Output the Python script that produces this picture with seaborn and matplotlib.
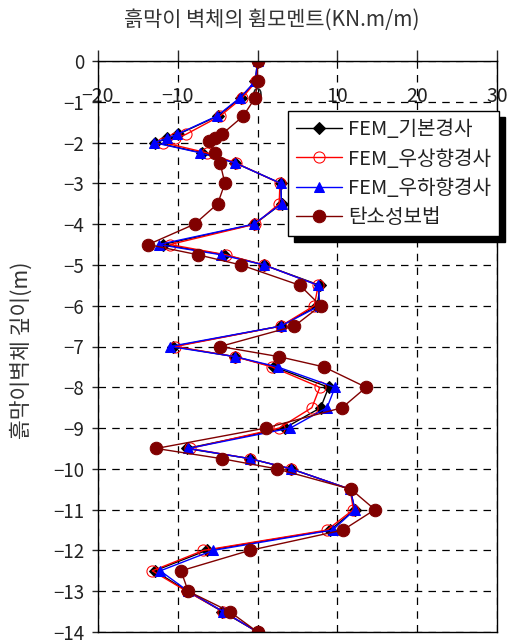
import matplotlib
matplotlib.use("Agg")
import matplotlib.pyplot as plt
import seaborn as sns
import pandas as pd

depth = [0, -0.5, -0.9, -1.35, -1.8, -1.9, -2.0, -2.25, -2.5, -3.0, -3.5, -4.0,
         -4.5, -4.75, -5.0, -5.5, -6.0, -6.5, -7.0, -7.25, -7.5, -8.0, -8.5, -9.0,
         -9.5, -9.75, -10.0, -10.5, -11.0, -11.5, -12.0, -12.5, -13.0, -13.5, -14.0]

fem_base = [0, -0.3, -2.1, -5.0, -10.0, -11.3, -12.8, -7.0, -2.8, 2.9, 3.0, -0.4,
            -11.9, -4.2, 0.8, 7.8, 7.5, 2.9, -10.6, -2.8, 2.1, 8.9, 7.9, 3.4,
            -8.9, -0.95, 4.2, 11.6, 12.2, 9.1, -6.4, -12.9, -8.8, -4.4, 0]

fem_up = [0, -0.2, -1.9, -4.7, -9.0, -10.3, -11.8, -6.4, -2.7, 2.8, 2.7, -0.3,
          -11.0, -4.0, 0.8, 7.6, 7.1, 2.9, -10.3, -2.8, 1.8, 7.8, 6.8, 2.7,
          -8.5, -0.95, 4.2, 11.6, 12.0, 8.7, -6.8, -13.2, -8.9, -4.3, 0]

fem_down = [0, -0.3, -2.2, -5.1, -10.1, -11.4, -13.0, -7.2, -2.8, 2.9, 3.0, -0.5,
            -12.4, -4.6, 0.8, 7.6, 7.8, 2.9, -11.0, -2.8, 2.5, 9.7, 8.7, 4.1,
            -8.7, -0.95, 4.2, 11.6, 12.2, 9.4, -5.6, -12.2, -8.7, -4.3, 0]

depth_ep = [0, -0.5, -0.9, -1.35, -1.8, -1.88, -1.96, -2.25, -2.5, -3.0, -3.5, -4.0,
            -4.5, -4.75, -5.0, -5.5, -6.0, -6.5, -7.0, -7.25, -7.5, -8.0, -8.5, -9.0,
            -9.5, -9.75, -10.0, -10.5, -11.0, -11.5, -12.0, -12.5, -13.0, -13.5, -14.0]
elasto_plastic = [0, 0, -0.3, -1.8, -4.5, -5.3, -6.1, -5.4, -4.7, -4.1, -5.0, -7.9,
                  -13.7, -7.5, -2.1, 5.3, 7.9, 4.6, -4.7, 2.7, 8.3, 13.6, 10.6, 1.0,
                  -12.7, -4.5, 2.4, 11.7, 14.7, 10.7, -1.0, -9.6, -8.7, -3.5, 0]

labels = ["FEM_기본경사", "FEM_우상향경사", "FEM_우하향경사", "탄소성보법"]
x_ticks = [-20, -10, 0, 10, 20, 30]
y_ticks = list(range(0, -15, -1))

sns.set_style("white")
plt.rcParams['font.family'] = ['Noto Sans CJK KR', 'DejaVu Sans']

fig = plt.figure(figsize=(5.14, 6.44), dpi=100)
ax = fig.add_axes([98/514, 1-632/644, (497-98)/514, (632-61)/644])

styles = [
    dict(color="black", marker="D", markersize=6, markerfacecolor="black",
         markeredgecolor="black", linewidth=1.0),
    dict(color="red", marker="o", markersize=8, markerfacecolor="none",
         markeredgecolor="red", linewidth=1.0),
    dict(color="blue", marker="^", markersize=7, markerfacecolor="blue",
         markeredgecolor="blue", linewidth=1.0),
    dict(color="#800000", marker="o", markersize=9, markerfacecolor="#800000",
         markeredgecolor="#800000", linewidth=1.0),
]
series = [(fem_base, depth), (fem_up, depth), (fem_down, depth), (elasto_plastic, depth_ep)]

for (xs, ys), lab, st in zip(series, labels, styles):
    df = pd.DataFrame({"m": xs, "d": ys})
    sns.lineplot(data=df, x="m", y="d", sort=False, estimator=None, ax=ax,
                 label=lab, **st)

ax.set_xlim(-20, 30)
ax.set_ylim(-14, 0)
ax.set_xticks(x_ticks)
ax.set_yticks(y_ticks)
ax.set_xticklabels([str(v) if v >= 0 else "\u2212" + str(-v) for v in x_ticks])
ax.set_yticklabels([str(v) if v == 0 else "\u2212" + str(-v) for v in y_ticks])
ax.set_xlabel("")
ax.set_ylabel("")

ax.tick_params(axis="x", top=True, labeltop=True, bottom=False, labelbottom=False,
               direction="out", length=8, width=1, pad=-41, labelsize=14,
               labelcolor="#222222")
ax.tick_params(axis="y", left=True, direction="out", length=4, width=1, pad=6,
               labelsize=13.5, labelcolor="#222222")

ax.grid(True, color="black", linestyle=(0, (6, 5)), linewidth=0.9)
for s in ax.spines.values():
    s.set_color("black")
    s.set_linewidth(1.0)
ax.set_axisbelow(True)

leg = ax.legend(loc="upper left", bbox_to_anchor=(288/514, 1-111/644),
                bbox_transform=fig.transFigure, frameon=True, fancybox=False,
                shadow={"color": "black", "alpha": 1, "ox": 4, "oy": -4},
                fontsize=14.5, handlelength=2.3, borderpad=0.4, labelspacing=0.42,
                handletextpad=0.3, borderaxespad=0)
leg.get_frame().set_edgecolor("black")
leg.get_frame().set_linewidth(1.0)
leg.get_frame().set_alpha(1)
for t in leg.get_texts():
    t.set_color("#222222")

fig.text(272/514, 1-20/644, "흙막이 벽체의 휨모멘트(KN.m/m)", ha="center", va="center",
         fontsize=15, color="#333333")
fig.text(22/514, 1-350/644, "흙막이벽체 깊이(m)", ha="center", va="center",
         rotation=90, fontsize=15.5, color="#333333")

fig.savefig("out.png", dpi=100)
